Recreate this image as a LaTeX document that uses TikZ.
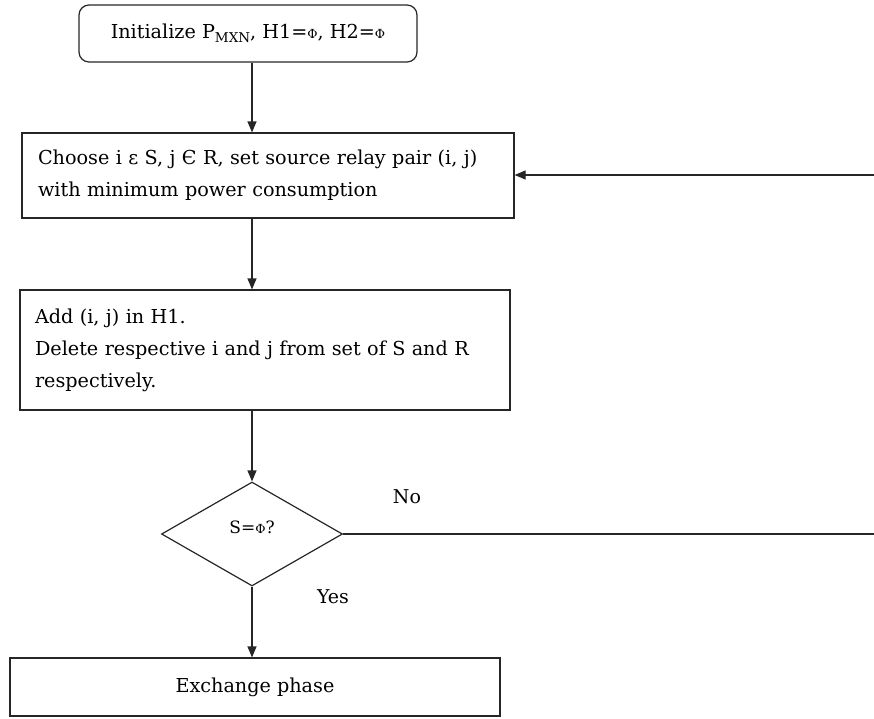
\documentclass[tikz,border=0pt]{standalone}
\usepackage{fontspec}
\setmainfont{DejaVu Serif}
\usetikzlibrary{shapes.geometric,arrows.meta}
\tikzset{
  flowline/.style={line width=1.2pt, draw=black!85},
  flowarrow/.style={flowline, -{Triangle[length=11pt,width=9pt]}},
  procbox/.style={draw=black!85, line width=1.2pt, rectangle, inner sep=0pt, font=\fontsize{19.2}{32}\selectfont},
  decision/.style={draw=black!85, line width=1.2pt, diamond, inner sep=0pt, font=\fontsize{17}{20}\selectfont},
  edgelabel/.style={font=\fontsize{19}{22}\selectfont, inner sep=0pt}
}
\newcommand{\emptyphi}{{\fontsize{12.5}{12.5}\selectfont Φ}}
\begin{document}
\begin{tikzpicture}[x=1pt,y=-1pt]
  \useasboundingbox (0,0) rectangle (874,718);
  % vertical trunk of the flow
  \coordinate (trunk) at (252,0);
  % free ends of the loop back connector at the right border
  \coordinate (loopin) at (874,175);
  \coordinate (loopout) at (874,534);

  \node[procbox, rounded corners=10pt, minimum width=338pt, minimum height=57pt]
    (init) at (248,33.5) {Initialize P\raisebox{-0.35ex}{\fontsize{13.5}{13.5}\selectfont MXN}, H1=\emptyphi, H2=\emptyphi};

  \node[procbox, minimum width=492pt, minimum height=85pt, text width=460pt, align=left]
    (choose) at (268,175.5) {Choose i ε S, j Є R, set source relay pair (i, j)\\with minimum power consumption};

  \node[procbox, minimum width=490pt, minimum height=120pt, text width=460pt, align=left]
    (add) at (265,350) {Add (i, j) in H1.\\Delete respective i and j from set of S and R\\respectively.};

  \node[decision, minimum width=181pt, minimum height=104pt]
    (check) at (252,534) {\raisebox{1.5ex}{S=\emptyphi?}};

  \node[procbox, minimum width=490pt, minimum height=58pt]
    (exchange) at (255,687) {Exchange phase};

  \node[edgelabel] (nolabel) at (407,497) {No};
  \node[edgelabel] (yeslabel) at (333,597) {Yes};

  \draw[flowarrow] (init.south -| trunk) -- (choose.north -| trunk);
  \draw[flowarrow] (choose.south -| trunk) -- (add.north -| trunk);
  \draw[flowarrow] (add.south -| trunk) -- (check.north);
  \draw[flowarrow] (check.south) -- (exchange.north -| check.south);
  \draw[flowline] (check.east) -- (loopout);
  \draw[flowarrow] (loopin) -- (choose.east |- loopin);
\end{tikzpicture}
\end{document}
